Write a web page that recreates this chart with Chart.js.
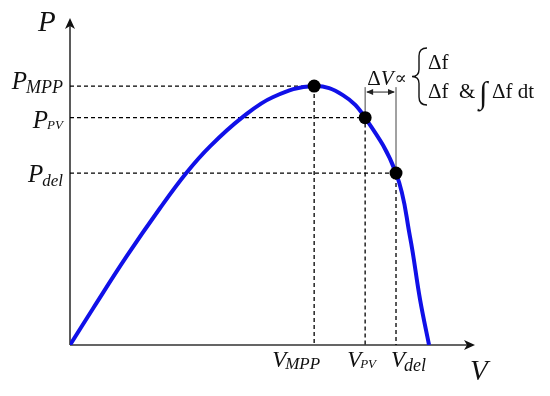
<!DOCTYPE html>
<html>
<head>
<meta charset="utf-8">
<script src="https://cdn.jsdelivr.net/npm/chart.js@4.4.0/dist/chart.umd.min.js"></script>
<style>
  html, body { margin: 0; padding: 0; background: #fff; }
  #wrap { width: 550px; height: 396px; position: relative; }
</style>
</head>
<body>
<div id="wrap"><canvas id="myChart" width="550" height="396"></canvas></div>
<script>
'use strict';
// P-V curve, V relative to Voc, P relative to P_MPP
let curveV = [0, 0.065, 0.158, 0.251, 0.325, 0.39, 0.478, 0.566, 0.68, 0.76, 0.822, 0.908, 0.947, 0.975, 1.0]
let curveP = [0, 0.143, 0.343, 0.529, 0.666, 0.767, 0.877, 0.958, 1.0, 0.965, 0.878, 0.664, 0.418, 0.175, 0]
let pointNames = ['MPP', 'PV', 'del']
let pointV = [0.68, 0.822, 0.908]
let pointP = [1.0, 0.878, 0.664]
let deltaTopP = 0.996
let deltaArrowP = 0.977
let axisMaxV = 1.128
let axisMaxP = 1.263

const serif = '"Liberation Serif", "DejaVu Serif", serif'
const ink = '#111'

let curveData = []
for (let i = 0; i < curveV.length; i++) {
  curveData.push({x: curveV[i], y: curveP[i]})
}
let markerData = []
for (let i = 0; i < pointV.length; i++) {
  markerData.push({x: pointV[i], y: pointP[i]})
}

let datasets = [{
  label: 'points',
  type: 'scatter',
  data: markerData,
  pointRadius: 6.5,
  pointBackgroundColor: '#000',
  pointBorderWidth: 0,
  order: 0
}, {
  label: 'P-V',
  data: curveData,
  borderColor: '#1010e8',
  borderWidth: 4,
  pointRadius: 0,
  tension: 0.4,
  order: 1
}]
for (let i = 0; i < pointV.length; i++) {
  datasets.push({
    label: 'guide ' + pointNames[i],
    data: [{x: 0, y: pointP[i]}, {x: pointV[i], y: pointP[i]}, {x: pointV[i], y: 0}],
    borderColor: '#000',
    borderWidth: 1.3,
    borderDash: [4, 3],
    pointRadius: 0,
    order: 2
  })
}
// the two thin lines marking delta V
for (let i = 1; i < pointV.length; i++) {
  datasets.push({
    label: 'dv ' + pointNames[i],
    data: [{x: pointV[i], y: pointP[i]}, {x: pointV[i], y: deltaTopP}],
    borderColor: '#444',
    borderWidth: 1,
    pointRadius: 0,
    order: 2
  })
}

function drawLabel(ctx, main, sub, x, y, opt) {
  ctx.font = 'italic ' + opt.size + 'px ' + serif
  let w1 = ctx.measureText(main).width
  ctx.font = 'italic ' + opt.subSize + 'px ' + serif
  let w2 = ctx.measureText(sub).width
  let left = opt.align === 'right' ? x - w1 - w2 + 1 : x
  ctx.textAlign = 'left'
  ctx.textBaseline = 'alphabetic'
  ctx.fillStyle = ink
  ctx.font = 'italic ' + opt.size + 'px ' + serif
  ctx.fillText(main, left, y)
  ctx.font = 'italic ' + opt.subSize + 'px ' + serif
  ctx.fillText(sub, left + w1 - 1, y + opt.drop)
}

function arrowHead(ctx, tx, ty, dir) {
  // dir: 'up' or 'right'
  ctx.beginPath()
  if (dir === 'up') {
    ctx.moveTo(tx, ty)
    ctx.lineTo(tx + 5, ty + 11)
    ctx.lineTo(tx, ty + 8)
    ctx.lineTo(tx - 5, ty + 11)
  } else {
    ctx.moveTo(tx, ty)
    ctx.lineTo(tx - 11, ty - 5)
    ctx.lineTo(tx - 8, ty)
    ctx.lineTo(tx - 11, ty + 5)
  }
  ctx.closePath()
  ctx.fill()
}

const axesPlugin = {
  id: 'pvAxes',
  beforeDatasetsDraw(chart) {
    let ctx = chart.ctx
    let xs = chart.scales.x
    let ys = chart.scales.y
    let x0 = xs.getPixelForValue(0)
    let y0 = ys.getPixelForValue(0)
    let xEnd = xs.getPixelForValue(axisMaxV)
    let yEnd = ys.getPixelForValue(axisMaxP)
    ctx.save()
    ctx.strokeStyle = '#333'
    ctx.fillStyle = '#111'
    ctx.lineWidth = 1.6
    ctx.beginPath()
    ctx.moveTo(x0, y0)
    ctx.lineTo(xEnd - 4, y0)
    ctx.moveTo(x0, y0)
    ctx.lineTo(x0, yEnd + 4)
    ctx.stroke()
    arrowHead(ctx, xEnd, y0, 'right')
    arrowHead(ctx, x0, yEnd, 'up')
    ctx.restore()
  },
  afterDraw(chart) {
    let ctx = chart.ctx
    let xs = chart.scales.x
    let ys = chart.scales.y
    let x0 = xs.getPixelForValue(0)
    let y0 = ys.getPixelForValue(0)
    ctx.save()
    // axis names
    ctx.fillStyle = ink
    ctx.textAlign = 'left'
    ctx.textBaseline = 'alphabetic'
    ctx.font = 'italic 29px ' + serif
    ctx.fillText('P', 38, ys.getPixelForValue(axisMaxP) + 13)
    ctx.fillText('V', 470, y0 + 35)

    // P labels left of the axis
    let pDrop = [3, 10, 9]
    let pSub = [18, 13, 17]
    let pSubDrop = [4, 1, 4]
    for (let i = 0; i < pointP.length; i++) {
      let py = ys.getPixelForValue(pointP[i])
      drawLabel(ctx, 'P', pointNames[i], x0 - 7, py + pDrop[i], {align: 'right', size: 25, subSize: pSub[i], drop: pSubDrop[i]})
    }
    // V labels under the axis
    let vShift = [-42, -18, -5]
    let vSub = [17, 13, 18]
    let vSubDrop = [2, 1, 4]
    for (let i = 0; i < pointV.length; i++) {
      let px = xs.getPixelForValue(pointV[i])
      drawLabel(ctx, 'V', pointNames[i], px + vShift[i], y0 + 22, {align: 'left', size: 23, subSize: vSub[i], drop: vSubDrop[i]})
    }

    // delta V arrow between V_PV and V_del
    let ax1 = xs.getPixelForValue(pointV[1])
    let ax2 = xs.getPixelForValue(pointV[2])
    let ay = ys.getPixelForValue(deltaArrowP)
    ctx.strokeStyle = '#222'
    ctx.fillStyle = '#222'
    ctx.lineWidth = 1
    ctx.beginPath()
    ctx.moveTo(ax1 + 2, ay)
    ctx.lineTo(ax2 - 2, ay)
    ctx.stroke()
    ctx.beginPath()
    ctx.moveTo(ax1 + 1, ay)
    ctx.lineTo(ax1 + 8, ay - 3)
    ctx.lineTo(ax1 + 8, ay + 3)
    ctx.closePath()
    ctx.fill()
    ctx.beginPath()
    ctx.moveTo(ax2 - 1, ay)
    ctx.lineTo(ax2 - 8, ay - 3)
    ctx.lineTo(ax2 - 8, ay + 3)
    ctx.closePath()
    ctx.fill()

    let tx = ax1 + 2
    let ty = ay - 7
    ctx.fillStyle = ink
    ctx.font = '21px ' + serif
    ctx.fillText('\u0394', tx, ty)
    let w = ctx.measureText('\u0394').width
    ctx.font = 'italic 21px ' + serif
    ctx.fillText('V', tx + w, ty)
    w += ctx.measureText('V').width
    ctx.font = '18px ' + serif
    ctx.fillText('\u221D', tx + w + 1, ty - 1)

    // curly brace
    let bx = 412
    let bTop = 48
    let bBot = 105
    let bMid = (bTop + bBot) / 2
    ctx.strokeStyle = ink
    ctx.lineWidth = 1.4
    ctx.beginPath()
    ctx.moveTo(bx + 15, bTop)
    ctx.quadraticCurveTo(bx + 7, bTop, bx + 7, bTop + 8)
    ctx.lineTo(bx + 7, bMid - 7)
    ctx.quadraticCurveTo(bx + 7, bMid, bx, bMid)
    ctx.quadraticCurveTo(bx + 7, bMid, bx + 7, bMid + 7)
    ctx.lineTo(bx + 7, bBot - 8)
    ctx.quadraticCurveTo(bx + 7, bBot, bx + 15, bBot)
    ctx.stroke()

    ctx.font = '21px ' + serif
    ctx.fillText('\u0394f', 428, 69)
    ctx.fillText('\u0394f', 428, 98)
    ctx.fillText('&', 459, 98)
    ctx.fillText('\u0394f dt', 492, 98)
    ctx.font = '31px ' + serif
    ctx.fillText('\u222B', 479, 103)
    ctx.restore()
  }
}

const ctx = document.getElementById('myChart')
const myChart = new Chart(ctx, {
  type: 'line',
  data: { datasets: datasets },
  options: {
    responsive: false,
    animation: false,
    layout: { padding: { left: 70, right: 75, top: 18, bottom: 51 } },
    scales: {
      x: { type: 'linear', min: 0, max: axisMaxV, display: false },
      y: { type: 'linear', min: 0, max: axisMaxP, display: false }
    },
    plugins: {
      legend: { display: false },
      tooltip: { enabled: false }
    }
  },
  plugins: [axesPlugin]
})
</script>
</body>
</html>
